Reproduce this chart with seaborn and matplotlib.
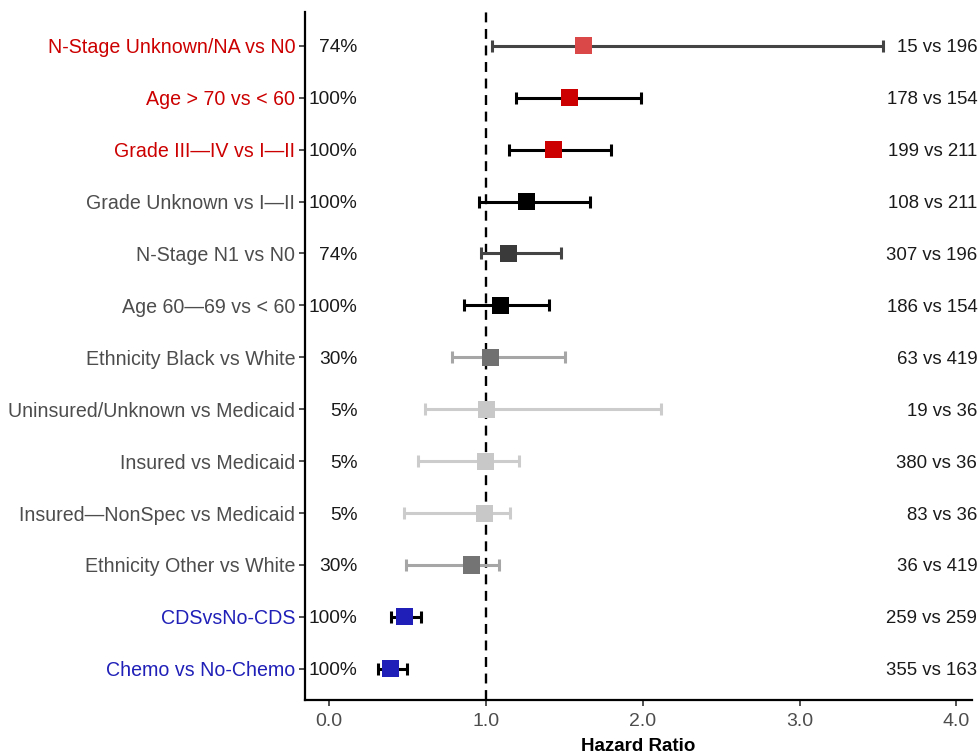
import matplotlib
matplotlib.use("Agg")
import matplotlib.pyplot as plt
import seaborn as sns
import pandas as pd
import numpy as np

# ---- data ----
labels = ["N-Stage Unknown/NA vs N0", "Age > 70 vs < 60", "Grade III\u2014IV vs I\u2014II",
          "Grade Unknown vs I\u2014II", "N-Stage N1 vs N0", "Age 60\u201469 vs < 60",
          "Ethnicity Black vs White", "Uninsured/Unknown vs Medicaid", "Insured vs Medicaid",
          "Insured\u2014NonSpec vs Medicaid", "Ethnicity Other vs White", "CDSvsNo-CDS",
          "Chemo vs No-Chemo"]
hr = [1.62, 1.535, 1.432, 1.259, 1.141, 1.095, 1.029, 1.006, 0.994, 0.987, 0.909, 0.48, 0.392]
lower = [1.035, 1.19, 1.146, 0.953, 0.97, 0.857, 0.783, 0.61, 0.563, 0.478, 0.49, 0.392, 0.313]
upper = [3.535, 1.986, 1.797, 1.665, 1.476, 1.40, 1.506, 2.113, 1.212, 1.151, 1.085, 0.588, 0.497]
pct = ["74%", "100%", "100%", "100%", "74%", "100%", "30%", "5%", "5%", "5%", "30%", "100%", "100%"]
counts = ["15 vs 196", "178 vs 154", "199 vs 211", "108 vs 211", "307 vs 196", "186 vs 154",
          "63 vs 419", "19 vs 36", "380 vs 36", "83 vs 36", "36 vs 419", "259 vs 259", "355 vs 163"]
group = ["risk", "risk", "risk", "neutral", "neutral", "neutral", "neutral", "neutral",
         "neutral", "neutral", "neutral", "protective", "protective"]
xticks = [0.0, 1.0, 2.0, 3.0, 4.0]

# ---- styles ----
label_color = {"risk": "#cc0000", "neutral": "#4d4d4d", "protective": "#2020b8"}
point_color = ["#db4848", "#cc0000", "#cc0000", "#000000", "#3a3a3a", "#000000",
               "#707070", "#c8c8c8", "#c8c8c8", "#c8c8c8", "#747474", "#2020b8", "#2020b8"]
bar_color = ["#444444", "#000000", "#000000", "#000000", "#444444", "#000000",
             "#a6a6a6", "#cccccc", "#cccccc", "#cccccc", "#a6a6a6", "#000000", "#000000"]

df = pd.DataFrame({"label": labels, "hr": hr, "lower": lower, "upper": upper,
                   "pct": pct, "counts": counts, "group": group})
n = len(df)
df["y"] = np.arange(n, 0, -1)

sns.set_theme(style="ticks")
plt.rcParams["font.family"] = ["Liberation Sans", "DejaVu Sans"]

fig = plt.figure(figsize=(9.8, 7.54), dpi=100)
ax = fig.add_axes([305 / 980, 1 - 700 / 754, 667 / 980, 688 / 754])

ax.axvline(1.0, color="black", lw=1.7, ls=(0, (4.2, 2.8)), zorder=1)

for i, r in df.iterrows():
    ax.errorbar(r["hr"], r["y"], xerr=[[r["hr"] - r["lower"]], [r["upper"] - r["hr"]]],
                fmt="none", ecolor=bar_color[i], elinewidth=2.2, capsize=4.2,
                capthick=2.2, zorder=2)

sns.scatterplot(data=df, x="hr", y="y", hue="label", palette=dict(zip(labels, point_color)),
                marker="s", s=150, linewidth=0, legend=False, ax=ax, zorder=3)

ax.set_ylim(0.4, n + 0.65)
ax.set_xlim(-0.155, 4.1)
ax.set_yticks(df["y"])
ax.set_yticklabels(df["label"], fontsize=14.1)
for t, g in zip(ax.get_yticklabels(), df["group"]):
    t.set_color(label_color[g])
ax.set_xticks(xticks)
ax.set_xticklabels([f"{v:.1f}" for v in xticks], fontsize=14, color="#4d4d4d")
ax.tick_params(axis="both", length=4, width=1.2, color="#333333")
ax.tick_params(axis="y", pad=3)
ax.tick_params(axis="x", pad=5)

for i, r in df.iterrows():
    ax.text(0.18, r["y"], r["pct"], ha="right", va="center_baseline", fontsize=13.8,
            color="#1a1a1a")
    ax.text(1.008, r["y"], r["counts"], ha="right", va="center_baseline", fontsize=13.4,
            color="#1a1a1a", transform=ax.get_yaxis_transform(), clip_on=False)

ax.set_xlabel("Hazard Ratio", fontsize=13.5, fontweight="bold", color="black", labelpad=6)
ax.set_ylabel("")
sns.despine(ax=ax)
for s in ["left", "bottom"]:
    ax.spines[s].set_linewidth(1.6)
    ax.spines[s].set_color("black")

fig.savefig("out.png", dpi=100)
